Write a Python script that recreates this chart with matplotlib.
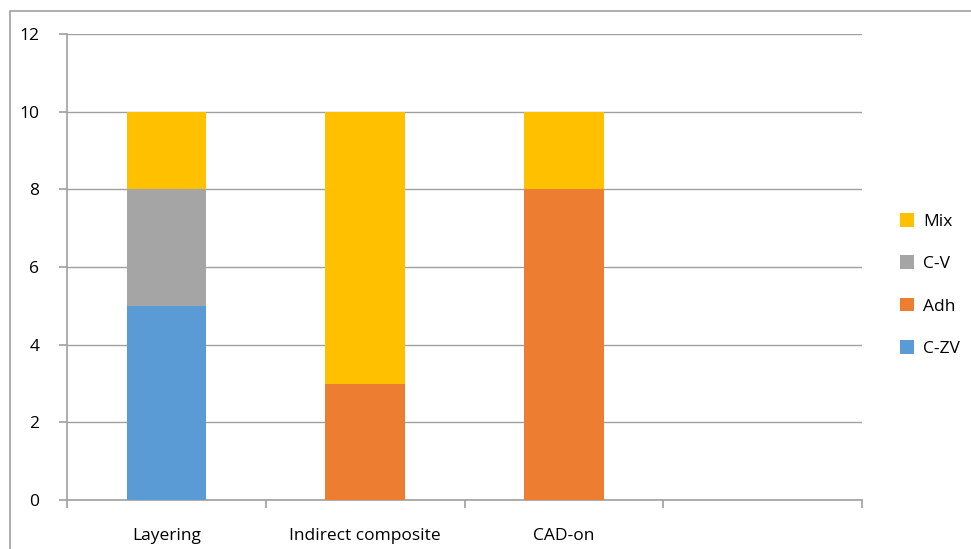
import matplotlib
matplotlib.use("Agg")
import matplotlib.pyplot as plt
from matplotlib.patches import Rectangle
import numpy as np

categories = ["Layering", "Indirect composite", "CAD-on", ""]
c_zv = [5, 0, 0, 0]
adh = [0, 3, 8, 0]
c_v = [3, 0, 0, 0]
mix = [2, 7, 2, 0]

plt.rcParams['font.family'] = ['Open Sans', 'DejaVu Sans']

fig = plt.figure(figsize=(9.71, 5.49), dpi=100)
ax = fig.add_axes([67/971, 1 - 500/549, (862-67)/971, (500-34)/549])

# outer chart frame (cut off on right/bottom like the original)
fig.patches.append(Rectangle((10/971, -0.1), 1.2, 1 - 11/549 + 0.1, transform=fig.transFigure,
                             fill=False, edgecolor='#A0A0A0', linewidth=1.2))

x = np.arange(len(categories))
w = 0.4
b1 = np.array(c_zv)
b2 = b1 + np.array(adh)
b3 = b2 + np.array(c_v)
ax.bar(x, c_zv, w, color='#5B9BD5', label='C-ZV', zorder=3)
ax.bar(x, adh, w, bottom=b1, color='#ED7D31', label='Adh', zorder=3)
ax.bar(x, c_v, w, bottom=b2, color='#A5A5A5', label='C-V', zorder=3)
ax.bar(x, mix, w, bottom=b3, color='#FFC000', label='Mix', zorder=3)

ax.set_xlim(-0.5, 3.5)
ax.set_ylim(0, 12)
ax.set_yticks(range(0, 13, 2))
ax.yaxis.grid(True, color='#A0A0A0', linewidth=1)
ax.set_axisbelow(True)

ax.set_xticks(np.arange(-0.5, 4, 1))
ax.set_xticklabels([])
ax.set_xticks(x, minor=True)
ax.set_xticklabels(categories, minor=True)
ax.tick_params(axis='x', which='minor', length=0, pad=20, labelsize=12.5)
ax.tick_params(axis='x', which='major', length=6, color='#A0A0A0', width=1.2)
ax.tick_params(axis='y', length=6, color='#A0A0A0', width=1.2, labelsize=12.5, pad=14)

for s in ['top', 'right']:
    ax.spines[s].set_visible(False)
for s in ['left', 'bottom']:
    ax.spines[s].set_color('#A0A0A0')
    ax.spines[s].set_linewidth(1.2)

h, l = ax.get_legend_handles_labels()
fig.legend(h[::-1], l[::-1], loc='center left', bbox_to_anchor=(884/971, 1 - 285/549),
           frameon=False, handlelength=0.85, handleheight=0.85, handletextpad=0.5,
           labelspacing=1.45, fontsize=12.5)

fig.savefig("out.png", dpi=100)
